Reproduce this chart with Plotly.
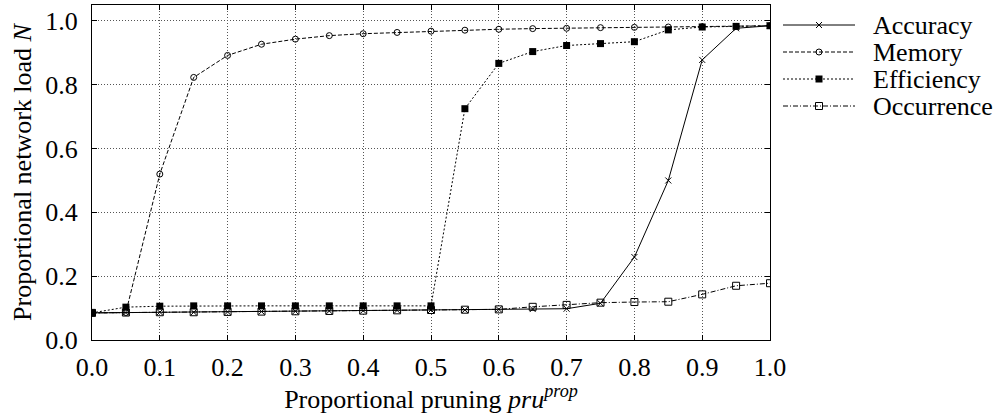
import plotly.graph_objects as go

# Pruning proportion (x) and proportional network load N for each strategy
pruning = [0.0, 0.05, 0.1, 0.15, 0.2, 0.25, 0.3, 0.35, 0.4, 0.45, 0.5,
           0.55, 0.6, 0.65, 0.7, 0.75, 0.8, 0.85, 0.9, 0.95, 1.0]

accuracy = [0.085, 0.086, 0.087, 0.087, 0.088, 0.089, 0.090, 0.091, 0.092, 0.093, 0.094,
            0.094, 0.096, 0.097, 0.098, 0.115, 0.26, 0.50, 0.878, 0.977, 0.985]
memory = [0.085, 0.086, 0.52, 0.823, 0.892, 0.927, 0.943, 0.954, 0.960, 0.964, 0.968,
          0.971, 0.974, 0.976, 0.977, 0.979, 0.980, 0.981, 0.982, 0.983, 0.985]
efficiency = [0.085, 0.103, 0.106, 0.107, 0.107, 0.107, 0.107, 0.107, 0.107, 0.107, 0.107,
              0.725, 0.867, 0.904, 0.923, 0.929, 0.935, 0.972, 0.981, 0.983, 0.985]
occurrence = [0.085, 0.086, 0.087, 0.087, 0.088, 0.089, 0.090, 0.091, 0.092, 0.093, 0.094,
              0.095, 0.096, 0.104, 0.110, 0.117, 0.119, 0.120, 0.143, 0.170, 0.178]

x_ticks = [0.0, 0.1, 0.2, 0.3, 0.4, 0.5, 0.6, 0.7, 0.8, 0.9, 1.0]
y_ticks = [0.0, 0.2, 0.4, 0.6, 0.8, 1.0]

series = [
    ("Accuracy", accuracy, "solid", dict(symbol="x-thin-open", size=6, color="black", line=dict(width=1, color="black"))),
    ("Memory", memory, "4px,2px", dict(symbol="circle-open", size=6, color="black", line=dict(width=1, color="black"))),
    ("Efficiency", efficiency, "2px,2px", dict(symbol="square", size=7, color="black", line=dict(width=0))),
    ("Occurrence", occurrence, "5px,2px,1px,2px", dict(symbol="square-open", size=7, color="black", line=dict(width=1, color="black"))),
]

FONT = "Liberation Serif, Times New Roman, serif"
FS = 26

fig = go.Figure()
for name, vals, dash, marker in series:
    fig.add_trace(go.Scatter(
        x=pruning, y=vals, mode="lines+markers", name=name,
        line=dict(color="black", width=1, dash=dash),
        marker=marker,
        showlegend=False, xaxis="x", yaxis="y",
    ))

# Hand-drawn key on an overlay axis measured in pixels to the right of the plot
key_rows = [25, 52, 79, 106]
for (name, vals, dash, marker), ky in zip(series, key_rows):
    fig.add_trace(go.Scatter(
        x=[0, 36, 72], y=[ky, ky, ky], mode="lines", xaxis="x2", yaxis="y2",
        line=dict(color="black", width=1, dash=dash), showlegend=False, hoverinfo="skip",
    ))
    fig.add_trace(go.Scatter(
        x=[36], y=[ky], mode="markers", xaxis="x2", yaxis="y2",
        marker=marker, showlegend=False, hoverinfo="skip",
    ))
    fig.add_annotation(x=88, y=ky, xref="x2", yref="y2", text=name, showarrow=False,
                       xanchor="left", yanchor="middle",
                       font=dict(family=FONT, size=FS, color="black"))

plot_w = 770 - 92
total_w = 1002 - 92

fig.update_layout(
    width=1002, height=414,
    margin=dict(l=92, r=0, t=5, b=74, autoexpand=False),
    paper_bgcolor="white", plot_bgcolor="white",
    font=dict(family=FONT, size=FS, color="black"),
    xaxis=dict(
        domain=[0, plot_w / total_w], range=[0, 1.0],
        tickvals=x_ticks, ticktext=[f"{v:.1f}" for v in x_ticks],
        showgrid=True, gridcolor="#555", griddash="1px,2px", gridwidth=1,
        ticks="inside", ticklen=5, tickcolor="black",
        showline=True, linecolor="black", linewidth=1, mirror="ticks",
        zeroline=False, automargin=False, ticklabelstandoff=4,
        title=dict(text="Proportional pruning <i>pru</i><sup><i>prop</i></sup>",
                   font=dict(size=FS), standoff=0),
    ),
    yaxis=dict(
        range=[0, 1.05],
        tickvals=y_ticks, ticktext=[f"{v:.1f}" for v in y_ticks],
        showgrid=True, gridcolor="#555", griddash="1px,2px", gridwidth=1,
        ticks="inside", ticklen=5, tickcolor="black",
        showline=True, linecolor="black", linewidth=1, mirror="ticks",
        zeroline=False, automargin=False, ticklabelstandoff=8,
        title=dict(text="Proportional network load <i>N</i>", font=dict(size=FS), standoff=6),
    ),
    xaxis2=dict(domain=[(783 - 92) / total_w, 1.0], range=[0, 1002 - 783],
                visible=False, fixedrange=True),
    yaxis2=dict(domain=[0, 1], range=[340, 5], visible=False, fixedrange=True,
                anchor="x2"),
)

fig.write_html("out.html")
